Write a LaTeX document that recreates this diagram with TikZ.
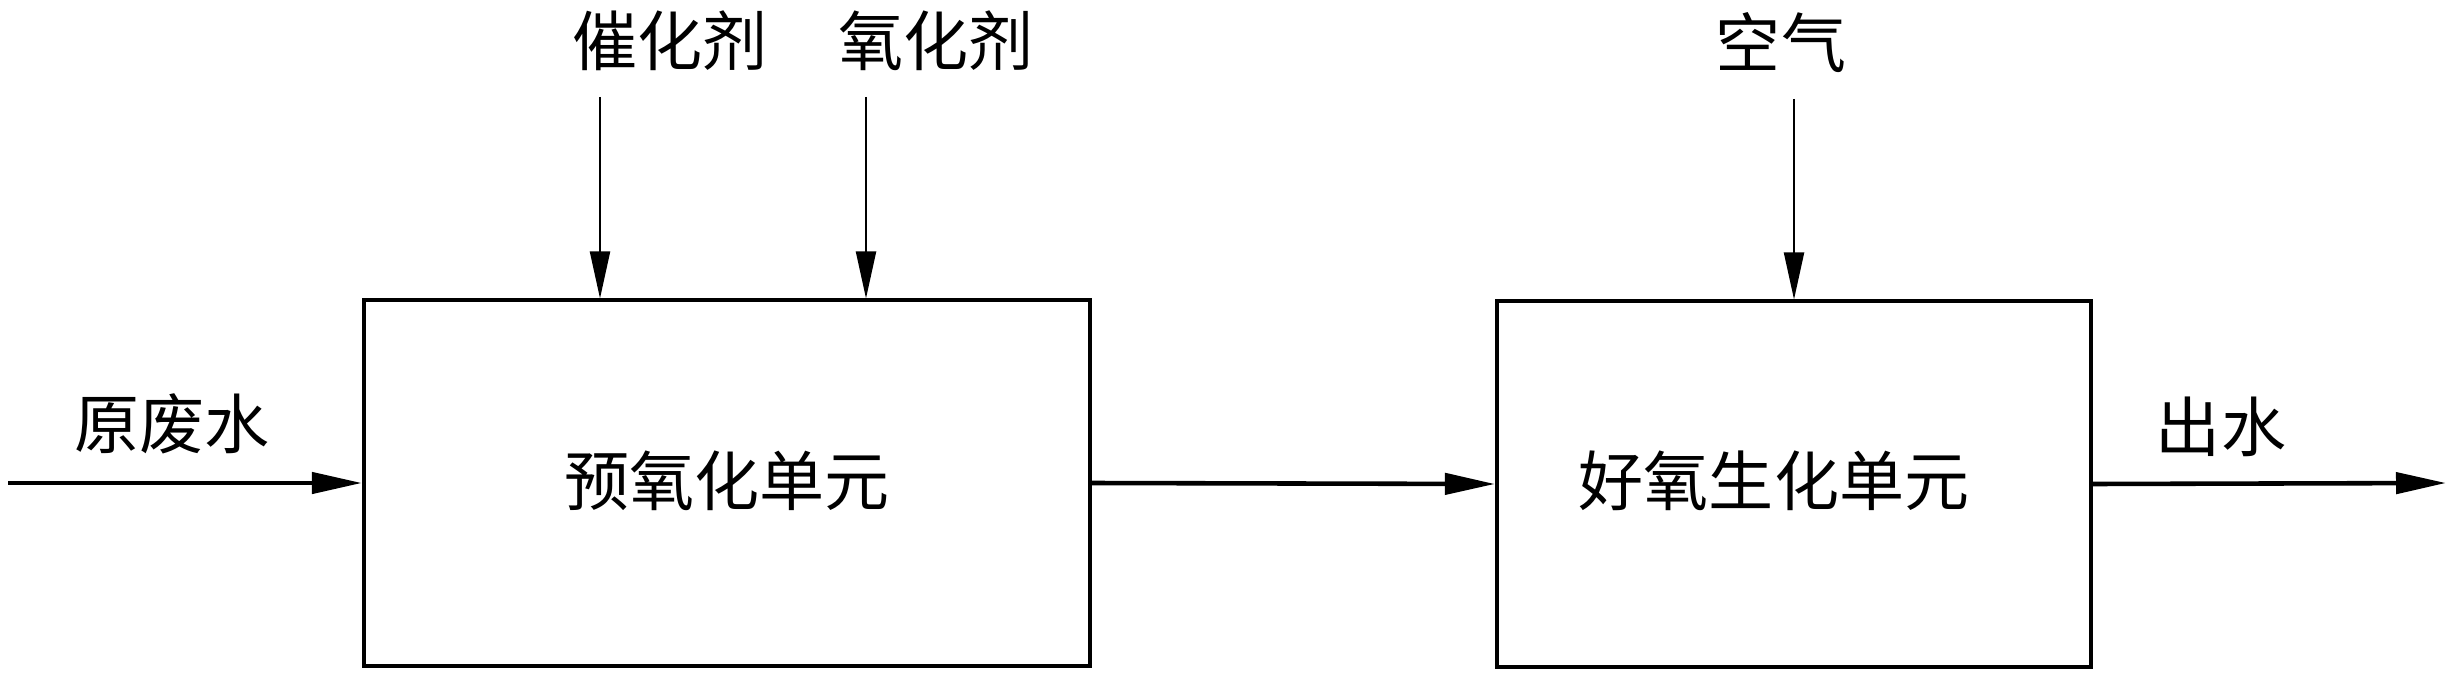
\documentclass[tikz,border=0pt]{standalone}
\usepackage{fontspec}
\newfontfamily\cjk{Noto Sans CJK SC}
\usetikzlibrary{arrows.meta}
\begin{document}
\begin{tikzpicture}[x=0.01cm,y=-0.01cm,
  unitbox/.style={draw,line width=1.1pt,inner sep=0,minimum width=#1,minimum height=3.65cm},
  lbl/.style={font=\cjk\fontsize{18.5}{20}\selectfont,inner sep=0},
  flow/.style={line width=1.3pt,-{Triangle[length=0.5cm,width=0.21cm]}},
  feed/.style={line width=0.6pt,-{Triangle[length=0.47cm,width=0.2cm]}}]
\useasboundingbox (0,0) rectangle (2452,676);
% units
\node[unitbox=7.26cm] (b1) at (727,483) {};
\node[lbl] (b1t) at (727,481) {预氧化单元};
\node[unitbox=5.94cm] (b2) at (1794,484) {};
\node[lbl] (b2t) at (1774,481) {好氧生化单元};
% labels
\node[lbl] (l1) at (670,41) {催化剂};
\node[lbl] (l2) at (936,41) {氧化剂};
\node[lbl] (l3) at (1781,43) {空气};
\node[lbl] (l4) at (172,424) {原废水};
\node[lbl] (l5) at (2221,427) {出水};
% free ends
\coordinate (in) at (8,483);
\coordinate (out) at (2446,483);
\coordinate (f1) at (600,97);
\coordinate (f2) at (866,97);
\coordinate (f3) at (1794,99);
% connectors
\draw[flow] (in) -- (b1.west);
\draw[flow] (b1.east) -- (b2.west);
\draw[flow] (b2.east) -- (out);
\draw[feed] (f1) -- (f1 |- b1.north);
\draw[feed] (f2) -- (f2 |- b1.north);
\draw[feed] (f3) -- (f3 |- b2.north);
\end{tikzpicture}
\end{document}
